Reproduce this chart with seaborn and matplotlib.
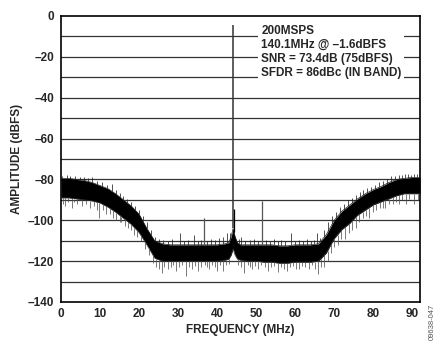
import matplotlib
matplotlib.use("Agg")
import matplotlib.pyplot as plt
import seaborn as sns
import numpy as np
import pandas as pd

# Noise-floor envelope (MHz, dBFS)
freq = [0, 2, 4, 6, 8, 10, 12, 14, 16, 18, 20, 22, 24, 26, 28, 30, 32, 34, 36, 38,
        40, 42, 43, 43.6, 44.1, 44.6, 45.2, 46, 48, 50, 52, 54, 56, 58, 60, 62, 64,
        66, 68, 70, 72, 74, 76, 78, 80, 82, 84, 86, 88, 90, 92]
top = [-79.5, -79.5, -80, -80.5, -81.5, -83, -84.5, -87, -90, -93, -97, -104, -110,
       -111.5, -112, -112, -112, -112, -112, -112, -112, -111.5, -111, -108, -104,
       -108, -111, -112, -112, -112, -112, -112, -112.5, -112.5, -112, -112, -112,
       -111.5, -107, -100, -95.5, -92.5, -89.5, -87, -85, -83.5, -81.5, -80, -79.5,
       -79, -79]
bottom = [-89, -89, -89.5, -90, -90.5, -91.5, -93.5, -96, -99, -102, -106, -112,
          -118.5, -120, -120, -120, -120, -120, -120, -120, -120, -119.5, -119, -117,
          -114, -117, -119, -119.5, -120, -120, -120.5, -120.5, -121, -121, -120.5,
          -120.5, -120.5, -120, -116, -109, -104.5, -101.5, -97.5, -95, -92.5, -91,
          -89.5, -88, -87, -87, -87]

# Noise spikes: (MHz, dBFS) extents below the band
spike_dn_f = [0.5, 1.0, 1.8, 2.7, 3.4, 4.2, 5.5, 6.3, 7.5, 8.4, 9.2, 9.8, 10.7, 11.5,
              12.5, 13.3, 14.2, 15.0, 15.5, 16.3, 17.2, 18.0, 18.8, 19.5, 20.4, 21.5,
              22.5, 23.5, 24.4, 25.0, 25.8, 26.5, 27.3, 28.2, 28.8, 29.5, 30.3, 31.0,
              32.0, 32.8, 33.5, 34.3, 35.0, 35.8, 36.9, 37.5, 38.0, 38.8, 39.5, 40.0,
              40.8, 41.5, 42.3, 43.0, 45.3, 46.2, 47.0, 47.8, 48.5, 49.0, 49.8, 50.5,
              51.2, 52.2, 53.0, 53.8, 54.5, 55.5, 56.3, 57.1, 58.0, 58.7, 59.5, 60.3,
              61.0, 61.8, 62.6, 63.5, 64.3, 65.0, 65.8, 66.6, 67.5, 68.3, 69.2, 70.0,
              70.9, 71.8, 72.8, 73.7, 74.6, 75.5, 76.4, 77.3, 78.2, 79.0, 80.0, 80.8,
              81.7, 82.5, 83.0, 84.0, 85.0, 85.8, 86.5, 87.5, 88.5, 89.3, 90.5, 91.4]
spike_dn_v = [-92, -93, -91, -94, -91, -92, -93, -92, -94, -93, -95, -99, -95, -97,
              -97, -99, -100, -101, -101, -103, -104, -105, -107, -108, -110, -114,
              -117, -121, -123, -124, -126, -123, -124, -123, -122, -125, -123, -122,
              -127.5, -123, -124, -122.5, -125, -123, -122, -123, -124, -122, -123,
              -125, -122, -125, -122, -121.5, -122, -123, -126, -122, -123, -124,
              -122.5, -124, -122, -123, -125, -123, -122.5, -125.5, -123, -124, -125,
              -123, -122.5, -124, -124, -122.5, -123, -124, -122, -124, -126.5, -123,
              -123, -120, -116, -113, -112, -109, -109, -106, -105, -104, -101, -99,
              -98, -99, -96, -95, -94, -94, -94, -92, -92, -91, -92, -90, -92, -89.5,
              -92, -90]
# Noise spikes above the band
spike_up_f = [0.3, 1.5, 2.4, 3.5, 4.8, 6.0, 7.0, 8.0, 9.3, 10.5, 11.8, 13.0, 14.0,
              15.0, 16.0, 17.0, 18.0, 19.0, 20.0, 21.0, 22.0, 23.0, 24.0, 25.0, 26.2,
              27.5, 28.5, 30.5, 31.5, 32.5, 34.0, 35.2, 36.0, 37.5, 38.5, 39.5, 40.5,
              41.5, 42.5, 43.3, 45.5, 46.0, 47.2, 48.5, 49.5, 50.5, 52.5, 53.5, 54.5,
              55.6, 56.5, 57.5, 59.0, 60.0, 61.0, 62.0, 63.0, 64.0, 64.8, 65.5, 66.5,
              67.5, 68.5, 69.5, 70.5, 71.5, 72.5, 73.5, 74.5, 75.5, 76.5, 77.5, 78.5,
              79.5, 80.5, 81.5, 82.5, 83.5, 84.5, 85.5, 86.5, 87.5, 88.2, 89.0, 89.8,
              90.5, 91.3, 91.8]
spike_up_v = [-78.5, -78, -78.5, -78.5, -79, -79, -79.5, -79, -81, -81.5, -82.5, -82,
              -85, -86.5, -88, -89.5, -91, -93, -95, -98, -101, -105, -108, -109,
              -109.5, -110, -109, -106, -110, -109.5, -107, -110, -109.5, -110, -109,
              -109.5, -108.5, -108, -106, -106, -109, -108, -110, -109.5, -109, -110,
              -109.5, -110, -109, -110, -109.5, -110, -106.4, -110, -109.5, -110, -109,
              -110, -109.5, -106, -108.5, -105, -101, -98, -96, -93.5, -92, -90, -89,
              -87.5, -86, -85, -84, -83.5, -82.5, -81.5, -81, -80, -78.5, -78.5, -78,
              -78, -77.5, -77.5, -78, -77.5, -77.5, -78]

# Tones (MHz, dBFS)
tone_f = [44.1, 36.6, 51.6, 44.3]
tone_v = [-4.5, -99, -90.7, -94.6]

xticks = [0, 10, 20, 30, 40, 50, 60, 70, 80, 90]
yticks = [0, -20, -40, -60, -80, -100, -120, -140]
info_lines = ["200MSPS", "140.1MHz @ \u20131.6dBFS", "SNR = 73.4dB (75dBFS)",
              "SFDR = 86dBc (IN BAND)"]

sns.set_style("white")
plt.rcParams['font.family'] = ['Liberation Sans', 'DejaVu Sans']

fig = plt.figure(figsize=(4.43, 3.46), dpi=100)
ax = fig.add_axes([61/443, 1-302/346, (420-61)/443, (302-16)/346])

# horizontal grid
for g in range(-130, 0, 10):
    ax.axhline(g, color='#333333', lw=0.9, zorder=1)

df = pd.DataFrame({'f': freq, 'top': top, 'bottom': bottom})
ax.fill_between(df['f'], df['bottom'], df['top'], color='black', lw=0, zorder=3)
sns.lineplot(data=df, x='f', y='top', color='#222222', lw=0.5, ax=ax, zorder=3)
sns.lineplot(data=df, x='f', y='bottom', color='#333333', lw=0.5, ax=ax, zorder=3)

base_dn = np.interp(spike_dn_f, freq, bottom)
ax.vlines(spike_dn_f, spike_dn_v, base_dn, color='#555555', lw=0.55, zorder=3)
base_up = np.interp(spike_up_f, freq, top)
ax.vlines(spike_up_f, base_up, spike_up_v, color='#222222', lw=0.55, zorder=3)

base_t = np.interp(tone_f, freq, top)
ax.vlines(tone_f[:1], base_t[:1], tone_v[:1], color='#333333', lw=1.1, zorder=4)
ax.vlines(tone_f[1:3], base_t[1:3], tone_v[1:3], color='#555555', lw=0.9, zorder=4)
ax.vlines(tone_f[3:], base_t[3:], tone_v[3:], color='black', lw=0.9, zorder=4)

ax.set_xlim(0, 92)
ax.set_ylim(-140, 0)
ax.set_xticks(xticks)
ax.set_yticks(yticks)
ax.set_xticklabels([str(t) for t in xticks], fontsize=8.5, fontweight='bold')
ax.set_yticklabels([str(t).replace('-', '\u2013') for t in yticks], fontsize=8.5,
                   fontweight='bold')
ax.tick_params(axis='x', direction='inout', length=5, width=0.8, color='#555555', pad=2)
ax.tick_params(axis='y', length=0, pad=5)
for s in ax.spines.values():
    s.set_color('black')
    s.set_linewidth(1.2)
    s.set_visible(True)

ax.set_xlabel('FREQUENCY (MHz)', fontsize=8.5, fontweight='bold', labelpad=3)
ax.set_ylabel('AMPLITUDE (dBFS)', fontsize=8.5, fontweight='bold', labelpad=3)

ax.text(51.3, -4.5, "\n".join(info_lines), fontsize=8.5, fontweight='bold',
        va='top', ha='left', linespacing=1.2, zorder=5,
        bbox=dict(facecolor='white', edgecolor='none', pad=2.0))

fig.text(432/443, 1-322/346, '09638-047', rotation=90, fontsize=5.5, color='#555555',
         ha='center', va='center')

fig.savefig('out.png', dpi=100)
